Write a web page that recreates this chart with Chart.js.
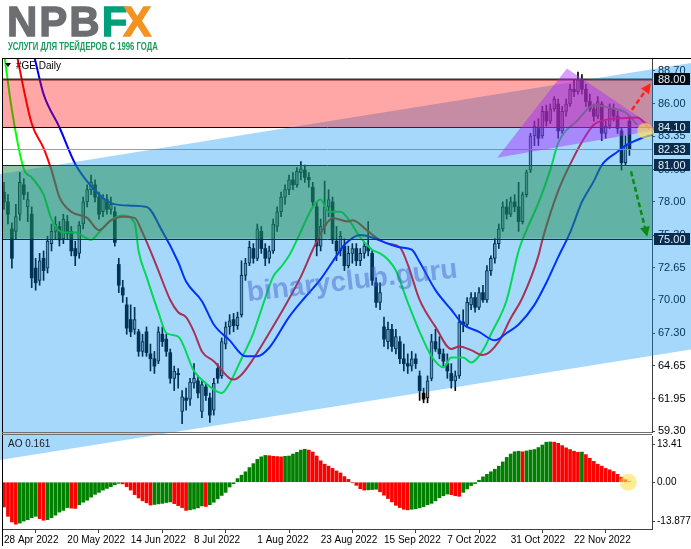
<!DOCTYPE html>
<html>
<head>
<meta charset="utf-8">
<script src="https://cdn.jsdelivr.net/npm/chart.js@4.4.1/dist/chart.umd.min.js"></script>
<style>
  body { margin: 0; width: 691px; height: 549px; overflow: hidden; background: #fff; position: relative; font-family: 'Liberation Sans', Arial, sans-serif; }
  #mainChart { position: absolute; left: 0; top: 0; }
  #aoChart { position: absolute; left: 0; top: 423px; }
  #logo { position: absolute; left: 7px; top: -3px; font: bold 42px/50px 'Liberation Sans', Arial, sans-serif; letter-spacing: 2px; white-space: nowrap; -webkit-text-stroke: 1.3px currentColor; }
  #tag { position: absolute; left: 8px; top: 40px; font: bold 11px/13px 'Liberation Sans', Arial, sans-serif; color: #179c5e; white-space: nowrap; transform-origin: left top; }
</style>
</head>
<body>
<canvas id="mainChart" width="691" height="549"></canvas>
<canvas id="aoChart" width="691" height="126"></canvas>
<div id="logo"><span style="color:#6d6e71">NPB</span><span style="color:#00a07c">F</span><span style="color:#f39322;margin-left:-6px">X</span></div>
<div id="tag">УСЛУГИ ДЛЯ ТРЕЙДЕРОВ С 1996 ГОДА</div>
<script>
// --- 1. DATA ---
const dateBars = [0, 16, 32, 48, 64, 80, 96, 112, 128, 144];
const dateLabels = ['28 Apr 2022', '20 May 2022', '14 Jun 2022', '8 Jul 2022', '1 Aug 2022',
  '23 Aug 2022', '15 Sep 2022', '7 Oct 2022', '31 Oct 2022', '22 Nov 2022'];
const priceTicks = [59.30, 61.95, 64.65, 67.30, 70.00, 72.65, 75.30, 78.00, 80.65, 83.35, 86.00, 88.70];
const aoTicks = [-13.877, 0, 13.41];
const aoTickLabels = ['-13.877', '0.00', '13.41'];

const opens = [78.8,78.0,75.8,75.6,77.0,79.4,77.6,77.0,72.6,71.6, 73.4,72.6,74.6,75.6,76.0,75.0,76.4,75.6,74.2,73.8,
  76.2,78.0,79.0,79.4,78.4,77.2,78.2,77.4,77.2,72.9, 71.0,69.6,68.4,67.6,67.4,65.8,67.4,65.6,65.2,65.0,
  67.2,66.8,65.7,63.6,64.0,60.9,62.0,61.9,63.2,63.4, 60.9,62.9,62.0,61.0,64.4,63.8,66.4,67.8,68.4,67.9,
  68.8,72.0,73.0,74.2,73.4,75.6,74.2,73.4,74.0,76.0, 77.2,78.4,79.0,79.8,79.4,80.4,80.6,80.0,79.2,77.6,
  74.4,76.0,77.6,78.0,74.8,74.0,74.4,72.8,73.8,74.2, 73.2,73.8,74.4,73.8,71.4,69.8,67.8,66.6,67.6,66.0,
  66.6,65.2,64.8,64.6,65.2,63.8,62.4,62.0,63.6,66.6, 66.0,65.6,64.8,64.0,63.4,63.8,68.2,68.0,69.6,70.2,
  69.4,70.6,70.0,72.4,73.4,74.6,75.8,77.6,77.0,78.0, 77.6,76.4,78.6,80.6,83.4,84.0,83.4,85.4,84.6,85.6,
  86.0,83.8,85.4,86.0,87.2,87.0,88.0,87.2,86.2,85.6, 85.0,86.0,83.6,84.2,85.6,85.0,83.8,81.2,84.6];
const highs = [79.6,78.6,76.3,77.8,80.4,79.9,78.8,77.6,73.4,73.8, 74.0,75.2,76.2,76.8,76.4,77.0,76.9,76.0,74.8,76.4,
  78.4,79.4,80.2,79.8,78.8,78.6,78.6,78.4,77.6,73.4, 71.6,70.2,69.6,69.4,67.6,67.2,67.8,66.4,65.8,67.8,
  67.8,67.2,66.0,64.6,64.4,62.6,62.8,63.6,64.8,63.8, 63.4,63.2,62.4,63.6,64.8,66.9,68.2,68.8,68.9,69.0,
  73.2,73.4,74.8,74.6,76.2,76.0,74.6,74.4,76.6,77.6, 78.8,79.4,80.2,80.4,80.8,81.3,81.0,80.4,79.6,78.0,
  76.6,79.7,79.0,78.4,76.0,75.6,75.0,74.4,74.6,74.6, 74.2,74.8,76.4,74.0,71.8,71.4,68.6,68.2,68.0,67.6,
  67.0,66.4,65.6,65.8,65.6,64.2,62.8,63.8,67.2,67.6, 67.0,66.0,65.6,64.8,64.2,68.8,69.2,70.2,70.6,70.6,
  71.0,71.2,72.8,73.6,75.0,76.2,78.0,78.2,78.4,78.6, 79.6,78.8,80.6,83.6,84.6,84.8,85.8,85.9,86.0,86.6,
  86.4,85.8,86.4,87.6,88.0,88.6,88.4,87.6,86.8,86.0, 86.6,86.2,84.6,86.0,86.0,85.4,84.0,83.4,85.0];
const lows = [77.4,76.2,72.6,75.0,76.5,78.2,76.4,71.0,70.8,71.2, 71.6,72.2,74.0,75.0,74.4,74.6,75.0,73.6,72.8,73.4,
  75.8,77.6,78.6,78.0,76.6,76.8,77.0,77.0,74.4,70.6, 69.8,67.2,67.0,67.2,65.4,65.4,65.4,64.2,64.0,64.8,
  66.2,65.4,63.2,62.6,62.8,59.9,61.0,61.4,62.8,62.0, 60.4,61.8,60.0,60.6,63.2,63.6,66.0,67.2,67.4,67.6,
  68.6,71.6,72.8,73.0,73.2,73.8,72.8,73.0,73.8,75.6, 76.8,77.8,78.6,79.0,79.2,79.8,79.6,79.2,77.6,73.6,
  74.0,75.4,76.8,74.6,73.2,73.6,72.4,72.6,73.0,72.8, 72.8,73.4,73.6,71.2,69.4,69.2,66.2,66.0,65.8,65.6,
  64.8,64.2,64.0,64.2,64.4,61.8,61.6,61.6,63.4,65.8, 65.2,64.6,63.6,62.8,62.6,63.6,67.4,67.8,69.2,69.0,
  69.2,69.8,69.8,72.0,73.0,74.2,75.6,76.6,76.8,77.2, 75.6,76.2,78.4,80.4,82.6,82.6,83.2,84.2,84.4,85.4,
  83.2,83.6,85.0,85.8,86.6,86.8,86.8,85.8,85.4,84.6, 84.8,83.0,83.2,84.0,84.6,83.6,80.6,81.0,81.8];
const closes = [78.0,77.0,73.4,76.8,79.6,78.6,78.2,71.8,71.4,73.2, 72.4,74.8,75.6,76.2,74.9,76.6,75.4,74.0,73.6,76.1,
  78.0,79.0,79.6,78.4,77.0,78.3,77.4,77.8,74.7,71.2, 70.4,67.7,67.4,68.4,65.8,66.6,65.7,65.2,64.6,67.4,
  66.6,65.8,63.6,64.2,63.9,62.1,61.8,63.3,63.6,62.4, 63.1,62.2,60.6,63.2,63.6,66.6,67.8,68.3,67.9,68.6,
  72.0,73.0,74.3,73.4,75.8,74.2,73.4,74.0,76.2,77.2, 78.4,79.0,79.8,79.4,80.5,80.7,80.0,79.8,78.0,74.4,
  76.0,77.6,78.2,74.9,74.0,75.2,72.8,73.8,74.2,73.2, 73.8,74.4,74.0,71.6,69.8,70.6,66.8,67.6,66.2,67.0,
  65.2,64.8,64.6,65.2,64.8,62.6,61.9,63.4,66.6,66.0, 65.6,65.0,64.2,63.4,63.8,68.2,68.0,69.8,70.2,69.4,
  70.6,70.0,72.4,73.4,74.6,75.8,77.6,77.0,78.0,77.6, 76.4,78.6,80.4,83.4,84.2,83.2,85.4,84.6,85.6,86.4,
  83.8,85.4,86.0,87.2,87.0,88.0,87.2,86.2,85.6,85.0, 86.2,83.6,84.2,85.6,85.0,84.0,81.2,82.6,82.33];

// Alligator lines: bar index and price
const jawBars = [0,4,8,10,14,18,22,27,32,36,40,44,46,50,53,57,61,64,67,72,76,80,84,86,90,93,97,100,103,105,109,113,116,120,124,127,130,134,137,140,143,146,149,151,155,157,161,164];
const jawPrices = [99.5,94.6,89.4,86.8,84.1,81.1,79.3,77.9,77.7,77.6,75.6,73.1,71.5,69.9,68.0,66.7,65.4,65.4,66.1,68.6,70.2,71.7,73.6,74.5,75.3,75.1,74.6,74.3,74.1,73.1,70.8,69.2,68.0,67.4,66.7,67.3,68.0,69.6,71.4,73.5,75.5,78.0,79.7,81.0,82.1,82.6,83.2,83.5];
const teethBars = [0,3,7,10,12,14,17,21,24,27,30,33,35,37,39,42,44,46,48,50,53,57,58,60,63,67,71,75,78,81,83,87,88,92,94,97,100,102,105,109,113,115,118,121,125,128,131,135,136,140,144,146,149,152,157,160,163];
const teethPrices = [95.2,90.4,84.4,82.4,80.6,78.4,77.2,76.7,75.7,76.5,76.8,76.7,75.5,74.0,72.4,70.0,69.0,68.6,67.4,65.8,65.0,63.6,63.5,63.9,65.2,67.3,69.5,71.9,74.1,76.0,76.7,76.4,76.5,75.6,75.1,74.6,74.3,72.9,70.0,67.8,66.0,66.2,65.9,65.5,66.6,68.5,70.2,73.6,74.9,78.9,81.7,82.9,84.3,84.7,84.85,84.9,84.0];
const lipsBars = [0,2,5,7,10,12,15,18,22,24,27,30,33,34,36,39,41,44,48,51,55,57,60,63,65,68,70,72,75,78,80,82,85,87,90,93,95,97,99,102,105,108,111,113,116,118,121,123,127,130,132,135,138,140,145,149,153,157,160];
const lipsPrices = [90.2,85.5,80.7,80.0,78.6,76.6,75.5,75.5,74.9,75.5,76.5,76.9,76.3,74.0,71.9,69.0,67.3,67.0,64.2,63.2,62.4,63.2,65.2,67.3,69.2,71.9,72.7,73.6,75.6,77.6,78.2,77.2,77.2,76.6,75.1,74.1,73.8,73.3,72.4,69.8,67.4,65.4,64.5,65.3,65.3,64.9,65.9,67.2,70.0,74.0,75.7,77.9,80.6,82.8,84.7,85.9,85.7,85.3,84.3];

// Awesome Oscillator
const aoValues = [-8.8,-12.1,-14.1,-14.9,-14.5,-13.8,-13.3,-12.6,-12.1,-12.9, -13.5,-13.3,-12.6,-11.7,-10.6,-10.0,-9.0,-9.2,-9.3,-8.0,
  -7.1,-6.4,-5.3,-4.3,-3.6,-2.8,-2.2,-1.6,-0.9,-0.4, -0.6,-1.6,-2.8,-4.4,-5.6,-6.6,-7.3,-8.1,-7.9,-7.7,
  -7.5,-7.2,-7.0,-7.6,-8.3,-9.0,-10.0,-9.8,-9.5,-9.1, -8.4,-8.6,-8.0,-7.1,-5.9,-4.7,-3.6,-1.7,-0.5,1.3,
  2.5,3.7,5.2,6.6,8.1,9.0,9.5,9.4,9.2,9.1, 9.0,9.2,9.3,10.0,10.6,11.4,11.7,11.4,10.7,9.3,
  7.6,6.4,5.7,4.9,4.0,3.3,2.0,1.0,-0.2,-1.1, -2.3,-2.8,-2.7,-2.6,-2.5,-3.4,-4.6,-5.8,-7.0,-8.2,
  -9.0,-9.6,-9.8,-9.6,-9.4,-9.1,-8.7,-8.0,-7.5,-6.6, -5.5,-4.8,-4.2,-4.4,-4.8,-5.0,-3.6,-2.4,-1.2,-0.5,
  0.7,1.9,2.8,3.7,4.6,5.7,7.2,8.8,10.0,10.8, 11.0,10.8,11.1,11.4,11.6,12.3,13.2,14.2,14.3,14.2,
  13.8,13.0,12.2,11.6,11.0,10.6,10.7,9.8,8.5,7.4, 6.4,5.7,4.9,4.4,3.8,2.8,1.8,0.9,0.161];

// Drawing objects: [bar index, price]
const bandUpper = [[-1.0, 80.28], [173.6, 89.34]];
const bandLower = [[-1.0, 56.93], [173.6, 65.95]];
const redZone = [84.10, 88.00];
const greenZone = [75.00, 81.00];
const levelLines = [88.00, 84.10, 81.00, 75.00];
const bidPrice = 82.33;
const triangle = [[124.6, 81.6], [142.2, 88.9], [165.2, 83.9]];
const upArrow = [[158.6, 85.5], [163.4, 87.7]];
const downArrow = [[158.4, 80.5], [162.5, 75.15]];
const priceMark = [162.0, 83.8];
const aoMark = [157.7, 0];
const watermarkAt = [88, 71.5];
const priceBoxes = [[88.00, '#050a10'], [84.10, '#0b2c4c'], [82.33, '#0b2c4c'], [81.00, '#0b2c4c'], [75.00, '#0b2c4c']];

const xMin = -0.25, xMax = 163.7;
const FONT = 'Liberation Sans';

// --- 2. HELPERS ---
function drawArrow(ctx, x1, y1, x2, y2, color) {
  const ang = Math.atan2(y2 - y1, x2 - x1);
  const head = 10;
  const bx = x2 - head * Math.cos(ang), by = y2 - head * Math.sin(ang);
  ctx.strokeStyle = color;
  ctx.lineWidth = 2.5;
  ctx.setLineDash([5, 3]);
  ctx.beginPath(); ctx.moveTo(x1, y1); ctx.lineTo(bx, by); ctx.stroke();
  ctx.setLineDash([]);
  ctx.fillStyle = color;
  ctx.beginPath();
  ctx.moveTo(x2, y2);
  ctx.lineTo(bx + 5 * Math.sin(ang), by - 5 * Math.cos(ang));
  ctx.lineTo(bx - 5 * Math.sin(ang), by + 5 * Math.cos(ang));
  ctx.closePath(); ctx.fill();
}

const overlayPlugin = {
  id: 'overlay',
  afterDatasetsDraw(chart) {
    const ctx = chart.ctx, xs = chart.scales.x, ys = chart.scales.y, a = chart.chartArea;
    const px = v => xs.getPixelForValue(v), py = v => ys.getPixelForValue(v);
    ctx.save();

    // level lines under the shaded zones
    ctx.strokeStyle = '#a0a0a0'; ctx.lineWidth = 1;
    ctx.beginPath(); ctx.moveTo(a.left, Math.round(py(bidPrice)) + 0.5); ctx.lineTo(a.right, Math.round(py(bidPrice)) + 0.5); ctx.stroke();
    levelLines.forEach((v, k) => {
      ctx.strokeStyle = k === 0 ? '#303030' : '#000';
      ctx.lineWidth = k === 0 ? 2 : 1;
      const y = Math.round(py(v)) + 0.5;
      ctx.beginPath(); ctx.moveTo(a.left, y); ctx.lineTo(a.right, y); ctx.stroke();
    });

    // rising channel
    ctx.fillStyle = 'rgba(0,143,246,0.35)';
    ctx.beginPath();
    ctx.moveTo(px(bandUpper[0][0]), py(bandUpper[0][1]));
    ctx.lineTo(px(bandUpper[1][0]), py(bandUpper[1][1]));
    ctx.lineTo(px(bandLower[1][0]), py(bandLower[1][1]));
    ctx.lineTo(px(bandLower[0][0]), py(bandLower[0][1]));
    ctx.closePath(); ctx.fill();

    // zones
    ctx.fillStyle = 'rgba(255,0,0,0.35)';
    ctx.fillRect(a.left, py(redZone[1]), a.right - a.left, py(redZone[0]) - py(redZone[1]));
    ctx.fillStyle = 'rgba(30,140,80,0.5)';
    ctx.fillRect(a.left, py(greenZone[1]), a.right - a.left, py(greenZone[0]) - py(greenZone[1]));

    // triangle
    ctx.fillStyle = 'rgba(170,40,255,0.45)';
    ctx.beginPath();
    triangle.forEach((p, k) => k ? ctx.lineTo(px(p[0]), py(p[1])) : ctx.moveTo(px(p[0]), py(p[1])));
    ctx.closePath(); ctx.fill();

    // watermark
    ctx.save();
    ctx.translate(px(watermarkAt[0]), py(watermarkAt[1]));
    ctx.rotate(-6.5 * Math.PI / 180);
    ctx.font = 'bold 28px ' + FONT;
    ctx.fillStyle = 'rgba(60,90,200,0.45)';
    ctx.textAlign = 'center'; ctx.textBaseline = 'middle';
    ctx.fillText('binaryclub.guru', 0, 0);
    ctx.restore();

    // mark circle
    ctx.fillStyle = 'rgba(255,225,80,0.65)';
    ctx.beginPath(); ctx.arc(px(priceMark[0]), py(priceMark[1]), 8, 0, Math.PI * 2); ctx.fill();

    drawArrow(ctx, px(upArrow[0][0]), py(upArrow[0][1]), px(upArrow[1][0]), py(upArrow[1][1]), '#ff2418');
    drawArrow(ctx, px(downArrow[0][0]), py(downArrow[0][1]), px(downArrow[1][0]), py(downArrow[1][1]), '#0b8a12');
    ctx.restore();
  },
  afterDraw(chart) {
    const ctx = chart.ctx, ys = chart.scales.y, a = chart.chartArea;
    ctx.save();
    // price boxes
    ctx.font = '11px ' + FONT;
    ctx.textBaseline = 'middle';
    priceBoxes.forEach(([v, bg]) => {
      const y = Math.round(ys.getPixelForValue(v));
      ctx.fillStyle = bg;
      ctx.fillRect(a.right + 2, y - 6, 36, 12);
      ctx.fillStyle = '#e4f2ff';
      ctx.fillText(v.toFixed(2), a.right + 6, y + 0.5);
    });
    // frame
    ctx.strokeStyle = '#000'; ctx.lineWidth = 1;
    ctx.beginPath(); ctx.moveTo(2, a.top - 0.5); ctx.lineTo(691, a.top - 0.5); ctx.stroke();
    ctx.beginPath(); ctx.moveTo(2.5, a.top - 1); ctx.lineTo(2.5, 546); ctx.stroke();
    ctx.strokeStyle = '#707070';
    ctx.beginPath(); ctx.moveTo(2, a.bottom + 0.5); ctx.lineTo(a.right, a.bottom + 0.5); ctx.stroke();
    ctx.beginPath(); ctx.moveTo(2, a.bottom + 2.5); ctx.lineTo(a.right, a.bottom + 2.5); ctx.stroke();
    // symbol caption
    ctx.fillStyle = '#000';
    ctx.beginPath(); ctx.moveTo(5, 63); ctx.lineTo(11, 63); ctx.lineTo(8, 67); ctx.closePath(); ctx.fill();
    ctx.font = '10px ' + FONT;
    ctx.textBaseline = 'middle';
    ctx.fillText('#GE,Daily', 16, 66);
    ctx.restore();
  }
};

const aoPlugin = {
  id: 'aoOverlay',
  afterDraw(chart) {
    const ctx = chart.ctx, xs = chart.scales.x, ys = chart.scales.y, a = chart.chartArea;
    ctx.save();
    ctx.fillStyle = 'rgba(255,225,80,0.6)';
    ctx.beginPath(); ctx.arc(xs.getPixelForValue(aoMark[0]), ys.getPixelForValue(aoMark[1]), 8.5, 0, Math.PI * 2); ctx.fill();
    ctx.fillStyle = '#202020';
    ctx.font = '10px ' + FONT;
    ctx.textBaseline = 'middle';
    ctx.fillText('AO ' + aoValues[aoValues.length - 1].toFixed(3), 8, a.top + 8);
    ctx.restore();
  }
};

// --- 3. CHARTS ---
const barIdx = opens.map((_, i) => i);
const isBull = i => closes[i] >= opens[i];
const linePoints = (xs, ys) => xs.map((x, k) => ({ x: x, y: ys[k] }));

const lineSet = (xs, ys, color) => ({
  type: 'line', data: linePoints(xs, ys), borderColor: color, borderWidth: 2,
  pointRadius: 0, cubicInterpolationMode: 'monotone', order: 0
});

new Chart(document.getElementById('mainChart'), {
  type: 'bar',
  data: {
    datasets: [
      lineSet(jawBars, jawPrices, '#0000ff'),
      lineSet(teethBars, teethPrices, '#ff0000'),
      lineSet(lipsBars, lipsPrices, '#00ff00'),
      {
        data: barIdx.map(i => ({ x: i, y: [opens[i], closes[i]] })),
        backgroundColor: barIdx.map(i => isBull(i) ? '#9a9aa4' : '#000'),
        borderColor: '#000',
        borderWidth: barIdx.map(i => isBull(i) ? 1 : 0),
        borderSkipped: false, barThickness: 3, minBarLength: 1, grouped: false, order: 1
      },
      {
        data: barIdx.map(i => ({ x: i, y: [lows[i], highs[i]] })),
        backgroundColor: '#000', barThickness: 1, grouped: false, order: 2
      }
    ]
  },
  options: {
    responsive: false, animation: false, events: [],
    layout: { padding: { left: 3, top: 59, right: 0, bottom: 117 } },
    plugins: { legend: { display: false }, tooltip: { enabled: false } },
    scales: {
      x: { type: 'linear', display: false, min: xMin, max: xMax, offset: false },
      y: {
        position: 'right', min: 59.22, max: 89.67,
        afterFit: s => { s.width = 39; },
        afterBuildTicks: s => { s.ticks = priceTicks.map(v => ({ value: v })); },
        ticks: { callback: v => Number(v).toFixed(2), color: '#000', font: { family: FONT, size: 11 }, padding: 3, autoSkip: false },
        grid: { drawOnChartArea: false, drawTicks: true, tickLength: 3, color: '#404040' },
        border: { display: true, color: '#404040' }
      }
    }
  },
  plugins: [overlayPlugin]
});

new Chart(document.getElementById('aoChart'), {
  type: 'bar',
  data: {
    datasets: [{
      data: aoValues.map((v, i) => ({ x: i, y: v })),
      backgroundColor: aoValues.map((v, i) => (i > 0 && v > aoValues[i - 1]) ? '#008000' : '#ff0000'),
      barThickness: 3, grouped: false, borderWidth: 0
    }]
  },
  options: {
    responsive: false, animation: false, events: [],
    layout: { padding: { left: 3, top: 13, right: 0, bottom: 0 } },
    plugins: { legend: { display: false }, tooltip: { enabled: false } },
    scales: {
      x: {
        type: 'linear', min: xMin, max: xMax, offset: false,
        afterBuildTicks: s => { s.ticks = dateBars.map(v => ({ value: v })); },
        afterFit: s => { s.height = 20; },
        ticks: { callback: (v, k) => dateLabels[k], align: 'start', autoSkip: false, maxRotation: 0, color: '#000', font: { family: FONT, size: 10 }, padding: 1 },
        grid: { drawOnChartArea: false, tickLength: 4, color: '#404040' },
        border: { display: true, color: '#404040' }
      },
      y: {
        position: 'right', min: -16.6, max: 16.4,
        afterFit: s => { s.width = 39; },
        afterBuildTicks: s => { s.ticks = aoTicks.map(v => ({ value: v })); },
        ticks: { callback: (v, k) => aoTickLabels[k], color: '#000', font: { family: FONT, size: 10 }, padding: 2, autoSkip: false },
        grid: { drawOnChartArea: false, tickLength: 3, color: '#404040' },
        border: { display: true, color: '#404040' }
      }
    }
  },
  plugins: [aoPlugin]
});

// fit the tagline to the logo width
const tag = document.getElementById('tag');
tag.style.transform = 'scaleX(' + (150 / tag.scrollWidth).toFixed(3) + ')';
</script>
</body>
</html>
